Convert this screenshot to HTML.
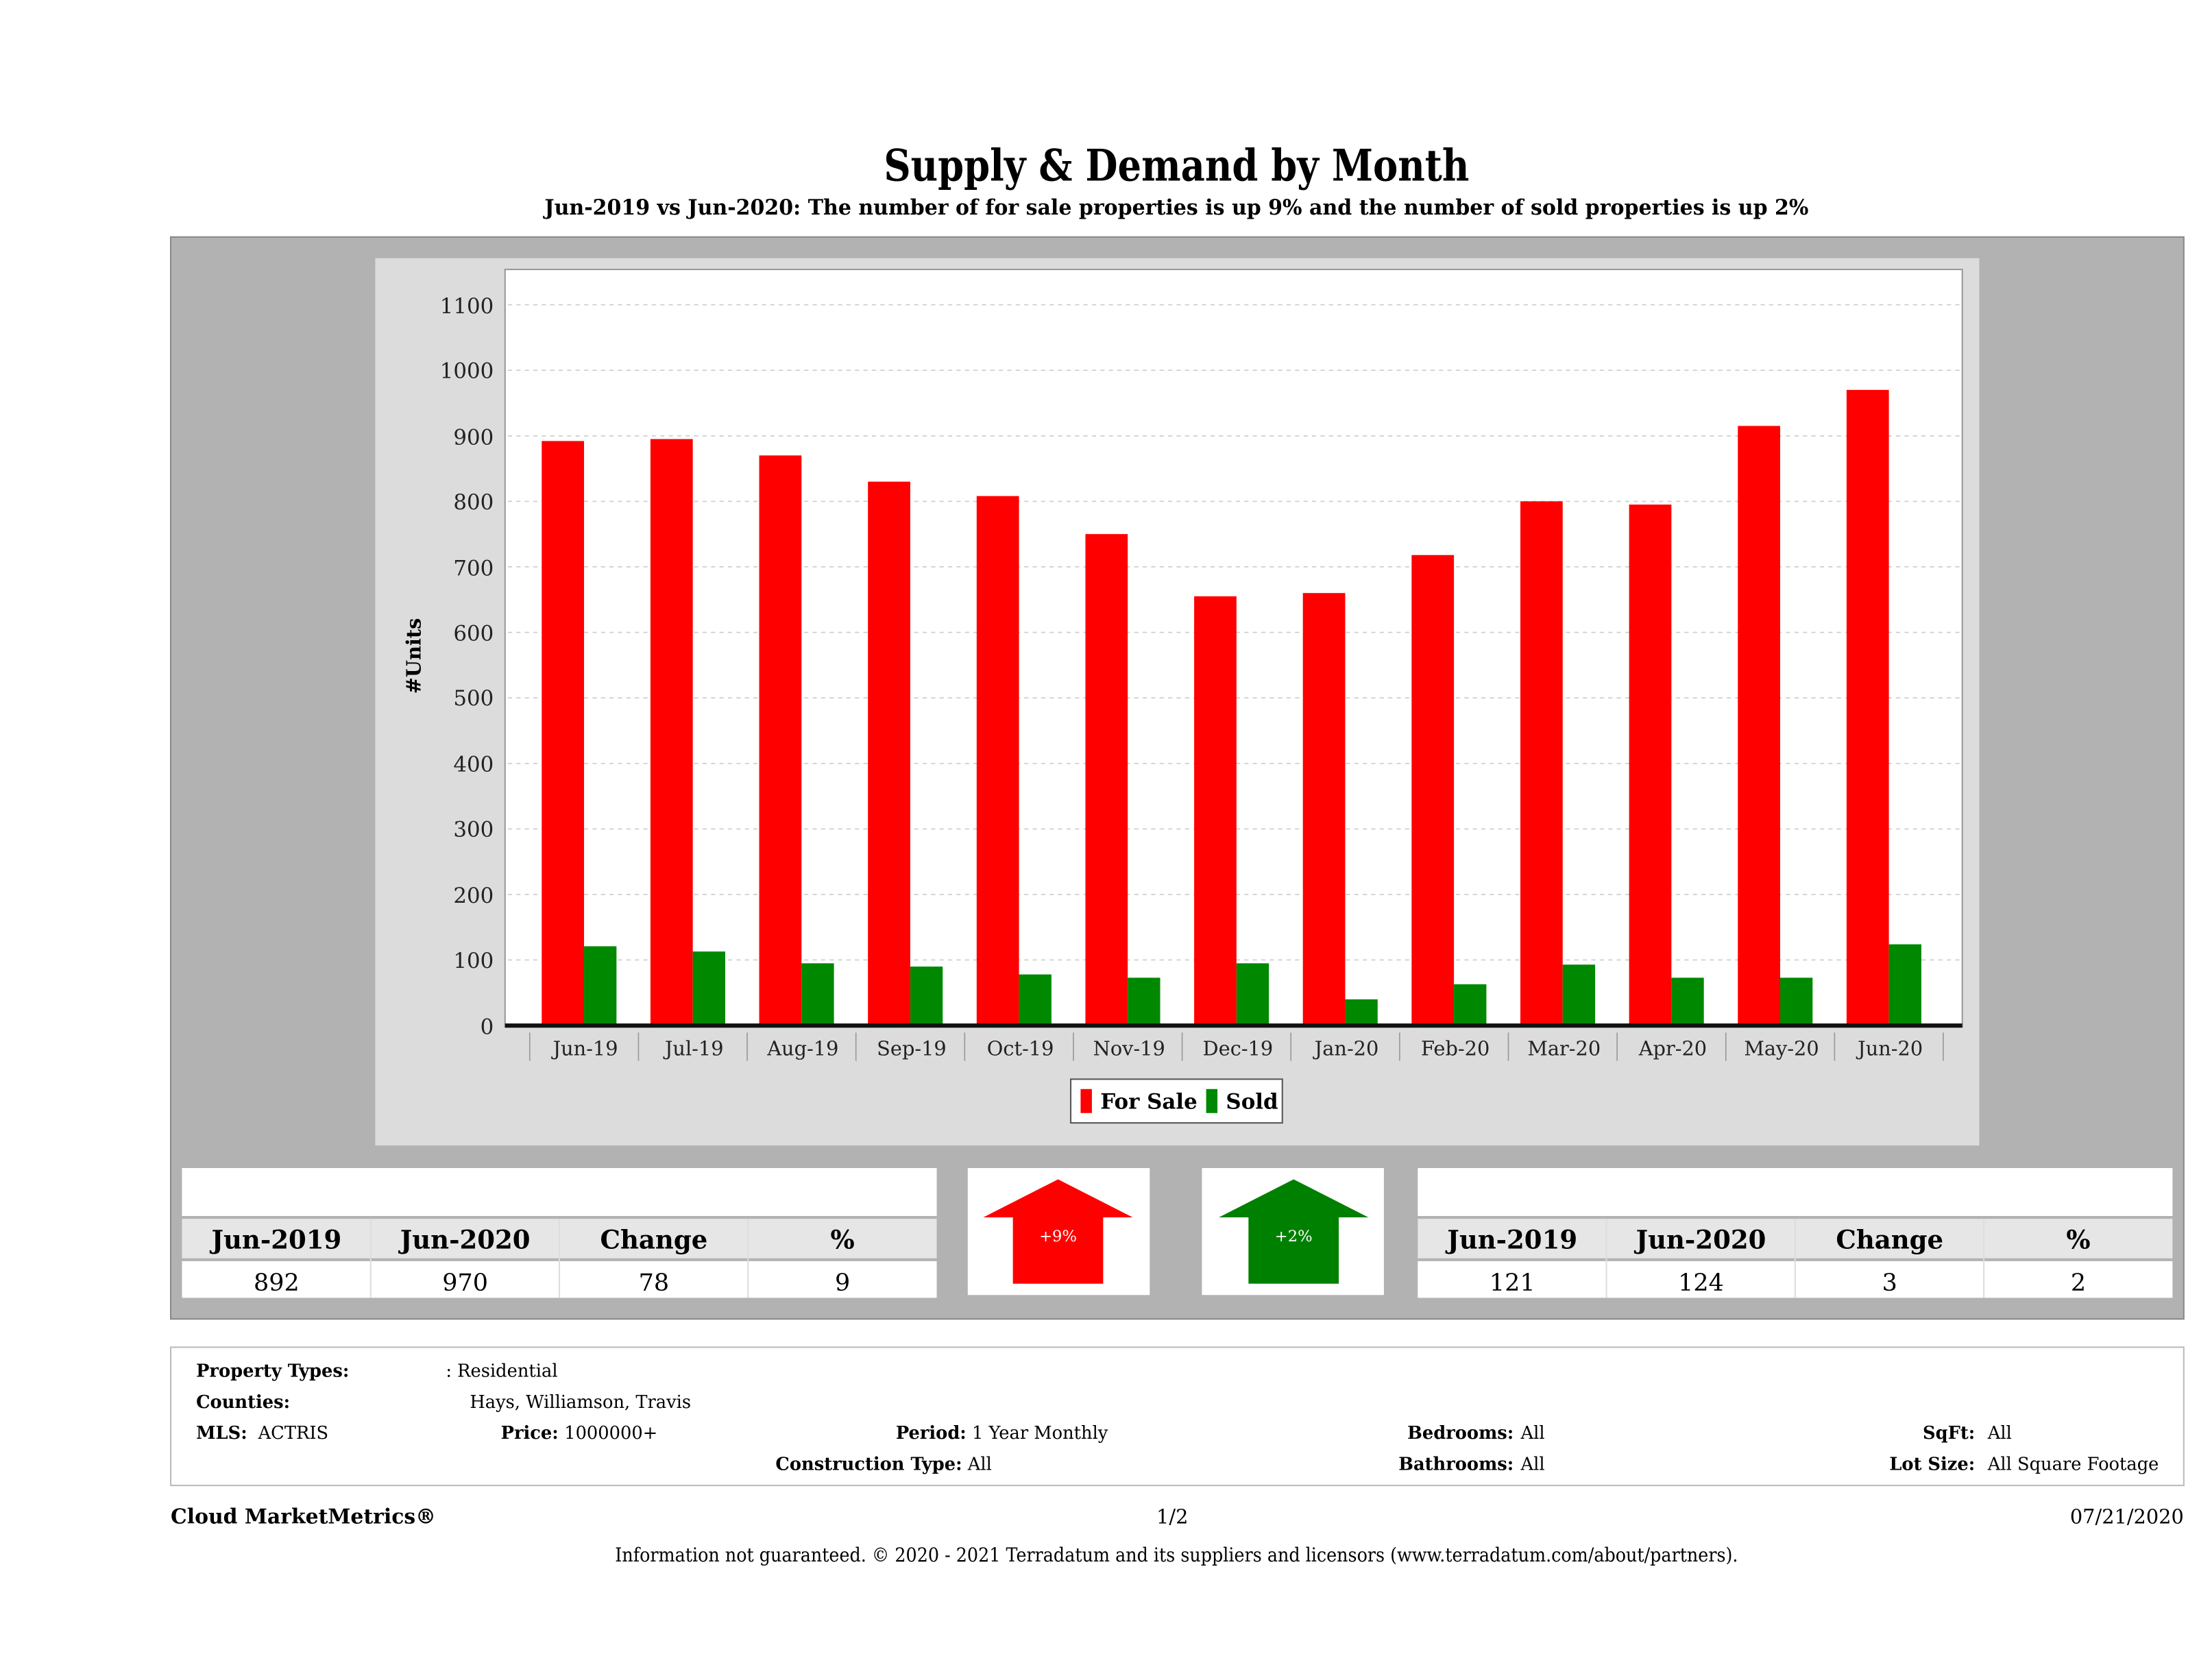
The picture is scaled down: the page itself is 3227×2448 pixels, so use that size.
<!DOCTYPE html>
<html><head><meta charset="utf-8"><style>html,body{margin:0;padding:0;background:#fff}svg{display:block}</style></head>
<body>
<svg width="3227" height="2448" viewBox="0 0 1568 1189.5" preserveAspectRatio="none" xmlns="http://www.w3.org/2000/svg" font-family="'DejaVu Serif','Liberation Serif',serif">
<rect width="1568" height="1190" fill="#fff"/>
<text x="834" y="128" text-anchor="middle" font-size="31" font-weight="bold" textLength="415" lengthAdjust="spacingAndGlyphs">Supply &amp; Demand by Month</text>
<text x="834" y="152" text-anchor="middle" font-size="15" font-weight="bold" textLength="896" lengthAdjust="spacingAndGlyphs">Jun-2019 vs Jun-2020: The number of for sale properties is up 9% and the number of sold properties is up 2%</text>
<rect x="121" y="168" width="1427" height="767" fill="#b2b2b2" stroke="#888" stroke-width="1"/>
<rect x="266" y="183" width="1137" height="629" fill="#dcdcdc"/>
<rect x="358" y="191" width="1033" height="537" fill="#fff" stroke="#999" stroke-width="1"/>
<g stroke="#ccc" stroke-width="0.8" stroke-dasharray="3,3">
<line x1="360" x2="1390" y1="216" y2="216"/><line x1="360" x2="1390" y1="262.5" y2="262.5"/><line x1="360" x2="1390" y1="309" y2="309"/><line x1="360" x2="1390" y1="355.4" y2="355.4"/><line x1="360" x2="1390" y1="401.8" y2="401.8"/><line x1="360" x2="1390" y1="448.3" y2="448.3"/><line x1="360" x2="1390" y1="494.7" y2="494.7"/><line x1="360" x2="1390" y1="541.2" y2="541.2"/><line x1="360" x2="1390" y1="587.6" y2="587.6"/><line x1="360" x2="1390" y1="634.1" y2="634.1"/><line x1="360" x2="1390" y1="680.5" y2="680.5"/>
</g>
<g font-size="15" text-anchor="end" fill="#222">
<text x="350" y="222">1100</text><text x="350" y="268">1000</text><text x="350" y="315">900</text><text x="350" y="361">800</text><text x="350" y="408">700</text><text x="350" y="454">600</text><text x="350" y="500">500</text><text x="350" y="547">400</text><text x="350" y="593">300</text><text x="350" y="640">200</text><text x="350" y="686">100</text><text x="350" y="733">0</text>
</g>
<text transform="translate(298,465) rotate(-90)" text-anchor="middle" font-size="14" font-weight="bold">#Units</text>
<g id="bars"></g>
<line x1="358" x2="1391" y1="727" y2="727" stroke="#111" stroke-width="3"/>
<g id="xl" font-size="14" text-anchor="middle" fill="#222"></g>
<rect x="759" y="765" width="150" height="31" fill="#fff" stroke="#555"/>
<rect x="766" y="772" width="8" height="17" fill="#f00"/>
<text x="780" y="786" font-size="15" font-weight="bold">For Sale</text>
<rect x="855" y="772" width="8" height="17" fill="#080"/>
<text x="869" y="786" font-size="15" font-weight="bold">Sold</text>

<g id="tables"></g>
<rect x="686" y="828" width="129" height="90" fill="#fff"/>
<polygon points="750,836 803,863 782,863 782,910 718,910 718,863 697,863" fill="#f00"/>
<text x="750" y="880" text-anchor="middle" font-size="11" fill="#fff">+9%</text>
<rect x="852" y="828" width="129" height="90" fill="#fff"/>
<polygon points="917,836 970,863 949,863 949,910 885,910 885,863 864,863" fill="#008000"/>
<text x="917" y="880" text-anchor="middle" font-size="11" fill="#fff">+2%</text>

<rect x="121" y="955" width="1427" height="98" fill="#fff" stroke="#bbb"/>
<g font-size="12.5">
<text x="139" y="976" font-weight="bold">Property Types:</text><text x="316" y="976">: Residential</text>
<text x="139" y="998" font-weight="bold">Counties:</text><text x="333" y="998">Hays, Williamson, Travis</text>
<text x="139" y="1020" font-weight="bold">MLS:</text><text x="183" y="1020">ACTRIS</text>
<text x="355" y="1020" font-weight="bold">Price:</text><text x="400" y="1020">1000000+</text>
<text x="635" y="1020" font-weight="bold">Period:</text><text x="689" y="1020">1 Year Monthly</text>
<text x="1073" y="1020" font-weight="bold" text-anchor="end">Bedrooms:</text><text x="1078" y="1020">All</text>
<text x="1400" y="1020" font-weight="bold" text-anchor="end">SqFt:</text><text x="1409" y="1020">All</text>
<text x="682" y="1042" font-weight="bold" text-anchor="end">Construction Type:</text><text x="686" y="1042">All</text>
<text x="1073" y="1042" font-weight="bold" text-anchor="end">Bathrooms:</text><text x="1078" y="1042">All</text>
<text x="1400" y="1042" font-weight="bold" text-anchor="end">Lot Size:</text><text x="1409" y="1042">All Square Footage</text>
</g>
<text x="121" y="1080" font-size="14.5" font-weight="bold">Cloud MarketMetrics®</text>
<text x="831" y="1080" font-size="14" text-anchor="middle">1/2</text>
<text x="1548" y="1080" font-size="14" text-anchor="end">07/21/2020</text>
<text x="834" y="1107" font-size="13.5" text-anchor="middle" textLength="796" lengthAdjust="spacingAndGlyphs">Information not guaranteed. © 2020 - 2021 Terradatum and its suppliers and licensors (www.terradatum.com/about/partners).</text>
</svg>
<script>
(function(){
var NS="http://www.w3.org/2000/svg";
function el(p,t,a,txt){var e=document.createElementNS(NS,t);for(var k in a)e.setAttribute(k,a[k]);if(txt!=null)e.textContent=txt;p.appendChild(e);return e;}
var red=[892,895,870,830,808,750,655,660,718,800,795,915,970],gr=[121,113,95,90,78,73,95,40,63,93,73,73,124];
var lab=["Jun-19","Jul-19","Aug-19","Sep-19","Oct-19","Nov-19","Dec-19","Jan-20","Feb-20","Mar-20","Apr-20","May-20","Jun-20"];
var b=document.getElementById("bars"),xl=document.getElementById("xl");
var y0=727,k=511/1100;
for(var i=0;i<13;i++){var c=414+i*77.08;
el(b,"rect",{x:c-30,y:y0-red[i]*k,width:30,height:red[i]*k,fill:"#f00"});
el(b,"rect",{x:c,y:y0-gr[i]*k,width:23,height:gr[i]*k,fill:"#080"});
el(xl,"text",{x:c+1,y:748},lab[i]);
el(xl,"line",{x1:c-38.5,x2:c-38.5,y1:732,y2:752,stroke:"#999","stroke-width":0.8});
}
el(xl,"line",{x1:414+12.5*77.08,x2:414+12.5*77.08,y1:732,y2:752,stroke:"#999","stroke-width":0.8});
var T=document.getElementById("tables");
function table(x,vals){
el(T,"rect",{x:x,y:828,width:535,height:34,fill:"#fff"});
el(T,"rect",{x:x,y:864,width:535,height:28,fill:"#e6e6e6"});
el(T,"rect",{x:x,y:894,width:535,height:26,fill:"#fff"});
var h=["Jun-2019","Jun-2020","Change","%"];
for(var j=0;j<4;j++){var cx=x+67+j*133.75;
el(T,"text",{x:cx,y:885,"text-anchor":"middle","font-size":18,"font-weight":"bold"},h[j]);
el(T,"text",{x:cx,y:915,"text-anchor":"middle","font-size":17},vals[j]);
if(j>0)el(T,"line",{x1:x+j*133.75,x2:x+j*133.75,y1:864,y2:920,stroke:"#ddd"});}
}
table(129,["892","970","78","9"]);table(1005,["121","124","3","2"]);
})();
</script>
</body></html>
